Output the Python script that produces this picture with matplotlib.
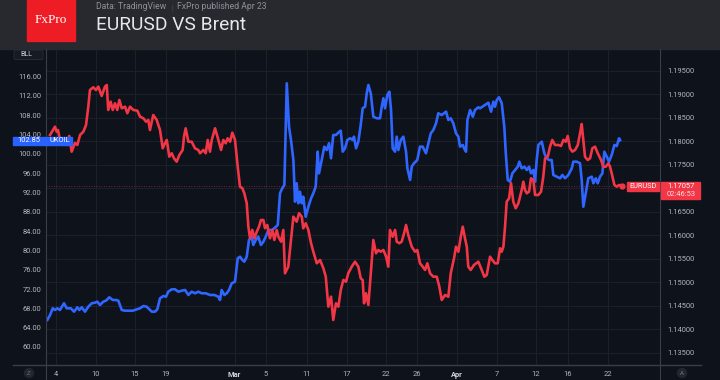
import matplotlib
matplotlib.use("Agg")
import matplotlib.pyplot as plt
from matplotlib.patches import Rectangle, Circle, FancyBboxPatch
import numpy as np

# ---------------- data ----------------
# time axis in bar units (compressed trading time)
tick_pos = [6.4, 33.3, 59, 80, 125.7, 146.7, 173.8, 200.4, 226.5, 247.3,
            274, 300.7, 326.7, 348, 374.7]
tick_labels = ['4', '10', '15', '19', 'Mar', '5', '11', '17', '22', '26',
               'Apr', '7', '12', '16', '22']

# UKOIL (Brent), left scale
oil_t = [0.9, 2.7, 4.5, 6, 7.5, 9.3, 12, 13.8, 16.5, 18.7,
         20.9, 22.2, 23.8, 26, 28.2, 30.5, 32.7, 34.2, 36, 38.2,
         40, 42.2, 44.5, 46.7, 48.2, 49.3, 50.5, 52.7, 55.5, 57.8,
         60.5, 62.7, 64.9, 67.1, 68.9, 70.5, 72.7, 74.2, 76, 78.2,
         80, 81.5, 83.8, 86, 88.2, 90.5, 92.7, 94.9, 97.1, 99.3,
         101.5, 103.8, 106.5, 109.3, 112.2, 114.9, 116, 117.1, 118.9, 120.5,
         122, 123.8, 126, 127.8, 129.3, 130.9, 132.2, 133.8, 135.3, 137.1,
         138.2, 139.8, 141.5, 143.3, 144.9, 146.5, 148.2, 150.5, 152.2, 154.5,
         156, 157.5, 158.9, 160.5, 162, 163.3, 164.9, 166, 167.1, 168.2,
         169.3, 170.5, 171.5, 173.1, 174.9, 176.7, 178.2, 179.8, 181.1, 182,
         183.8, 185.5, 187.1, 188.7, 190, 191.5, 193.3, 195.5, 196.5, 197.8,
         199.3, 200.9, 202.7, 204.5, 205.3, 206.7, 208.2, 209.8, 211.1, 212.7,
         213.8, 214.9, 216.5, 218.2, 220.5, 222.7, 223.8, 224.9, 226, 227.5,
         228.9, 230, 231.1, 232.7, 233.8, 234.9, 236.5, 238.2, 240, 240.9,
         242.7, 243.8, 245.3, 247.5, 249.3, 251.1, 253.3, 254.9, 256.5, 258.2,
         260, 261.5, 263.8, 265.3, 266.7, 268.2, 269.8, 271.5, 273.3, 274.9,
         276, 277.8, 278.7, 280, 280.9, 282.7, 284.5, 286, 288.2, 289.3,
         292.7, 294.9, 296.7, 298.2, 299.3, 300.5, 302, 303.8, 305.5, 306.5,
         307.8, 309.3, 310.9, 312.7, 314.5, 315.5, 317.1, 318.9, 320.5, 322,
         323.3, 324.9, 326, 327.1, 328.2, 330.5, 332.2, 333.8, 335.3, 337.1,
         338.2, 340.5, 342.7, 344.2, 346, 348.2, 350.5, 351.5, 353.8, 356,
         357.1, 358.2, 359.8, 361.5, 363.8, 364.9, 366.5, 367.8, 369.3, 370.9,
         372.2, 373.8, 375.3, 377.1, 378.9, 380.5, 382, 382.7]
oil = [65.59, 66.62, 68.01, 67.66, 68.01, 67.66, 69.05, 68.01, 68.01, 67.31,
       68.22, 67.66, 68.22, 67.31, 68.34, 69.05, 69.17, 69.38, 68.69, 69.38,
       69.59, 70.29, 69.73, 69.73, 69.59, 68.69, 67.66, 67.51, 67.51, 67.51,
       67.8, 68.01, 68.49, 68.34, 67.8, 67.31, 67.31, 67.8, 70.08, 70.56,
       70.41, 71.45, 71.95, 71.95, 71.45, 71.66, 71.8, 70.77, 71.45, 71.12,
       71.45, 71.12, 71.12, 70.77, 70.77, 70.41, 69.73, 71.8, 70.77, 71.12,
       71.8, 73.19, 73.52, 78.37, 78.7, 78.02, 77.67, 78.7, 82.16, 82.85,
       81.13, 82.16, 82.85, 81.13, 81.81, 82.85, 84.23, 84.23, 84.59, 85.27,
       91.84, 92.88, 93.56, 114.63, 105.64, 102.88, 98.74, 90.1, 93.91, 89.77,
       92.17, 89.77, 91.13, 86.99, 89.06, 90.8, 91.84, 93.21, 100.46, 95.98,
       98.74, 101.5, 100.81, 102.2, 99.09, 103.92, 103.92, 104.6, 104.81, 100.46,
       101.16, 102.88, 103.24, 102.88, 103.57, 101.16, 102.53, 105.99, 109.45, 109.78,
       112.56, 114.28, 112.56, 107.71, 107.38, 107.38, 109.78, 111.52, 109.45, 112.21,
       112.89, 109.1, 101.16, 100.46, 103.57, 100.81, 102.88, 103.57, 100.46, 97.02,
       94.6, 97.35, 98.06, 98.74, 101.5, 101.5, 100.13, 102.2, 104.27, 104.96,
       106.34, 108.42, 108.06, 108.42, 108.75, 107.03, 107.38, 106.34, 104.27, 103.57,
       101.5, 101.85, 101.16, 100.46, 107.03, 109.1, 107.71, 109.1, 109.66, 109.45,
       110.14, 110.61, 108.75, 110.82, 109.78, 111.17, 111.73, 110.49, 105.64, 100.13,
       94.6, 94.24, 95.98, 96.67, 97.35, 98.39, 97.02, 97.35, 96.67, 97.35,
       95.98, 96.67, 94.24, 98.74, 101.85, 102.53, 100.13, 99.09, 98.74, 98.74,
       95.63, 95.28, 94.95, 95.63, 94.95, 95.63, 97.02, 98.39, 98.39, 98.06,
       94.6, 89.06, 91.84, 94.95, 95.28, 93.91, 94.95, 93.91, 95.28, 95.98,
       100.46, 99.42, 98.39, 99.78, 101.85, 101.64, 103.24, 102.85]

# EURUSD, right scale
eur_t = [2.7, 6, 7.1, 8, 9.3, 11.3, 13.8, 15.5, 17.1, 19.3,
         20.9, 22.7, 24.9, 26.7, 28.2, 29.3, 31.5, 33.3, 34.9, 37.1,
         39.3, 40.5, 41.5, 43.1, 44.5, 46, 47.5, 48.9, 50.5, 52.7,
         54.2, 56, 58.2, 60.9, 62.7, 64.9, 66.7, 68.2, 69.3, 71.5,
         73.8, 76, 77.8, 79.3, 80.5, 82.2, 83.8, 85.3, 87.1, 88.9,
         91.1, 92, 93.1, 94.9, 97.1, 99.3, 101.5, 102.7, 104.9, 106.5,
         107.8, 109.3, 110.5, 112.7, 114.9, 116.7, 118.2, 119.8, 121.1, 122.7,
         124.2, 126, 127.8, 129.3, 130.9, 132.2, 133.8, 134.9, 136, 137.5,
         138.9, 140.5, 142, 143.3, 144.9, 146, 147.5, 149.3, 150.9, 152.2,
         153.8, 154.9, 156.7, 158.2, 159.3, 161.5, 163.3, 164.9, 167.1, 168.7,
         170.5, 171.5, 173.1, 174.9, 176.7, 178.2, 180.5, 182.7, 184.9, 186.5,
         188.2, 190, 191.5, 193.3, 194.9, 196.5, 198.2, 200, 201.5, 203.8,
         206, 208.2, 209.8, 211.1, 212, 213.3, 214.9, 216.5, 218.2, 220,
         221.5, 223.1, 224.9, 226.7, 228.2, 229.3, 231.1, 232.7, 233.8, 235.5,
         237.1, 238.7, 240, 241.5, 243.8, 246, 247.5, 249.3, 251.1, 252.7,
         254.2, 256, 258.2, 260.5, 262.2, 263.8, 266, 268.2, 269.8, 272,
         273.3, 274.9, 276.5, 277.8, 279.3, 280.5, 281.5, 283.1, 285.3, 288.2,
         290, 292.2, 293.8, 296, 297.5, 299.3, 301.1, 302.7, 303.8, 304.9,
         306, 307.1, 308.7, 310, 311.5, 313.1, 314.9, 317.1, 318.2, 319.3,
         320.5, 322, 323.3, 324.9, 326, 328.2, 330, 331.5, 332.7, 334.5,
         336, 337.5, 339.3, 341.5, 343.3, 344.9, 346.5, 347.8, 349.3, 350.9,
         352.7, 354.5, 356, 357.1, 358.2, 359.3, 361.1, 362.7, 364.2, 366,
         367.8, 370, 371.5, 373.1, 374.9, 376, 377.1, 378.9, 380.5, 382, 383.8]
eur = [1.18132, 1.18309, 1.18202, 1.18238, 1.18026, 1.17989, 1.17919, 1.18111, 1.17777, 1.17962,
       1.17919, 1.18132, 1.18202, 1.18345, 1.18734, 1.19089, 1.19147, 1.19089, 1.1916, 1.18962,
       1.1916, 1.19196, 1.18664, 1.1884, 1.18664, 1.18806, 1.18664, 1.18877, 1.187, 1.18734,
       1.18594, 1.18734, 1.18664, 1.18649, 1.18521, 1.18487, 1.18415, 1.18451, 1.18238, 1.18557,
       1.18451, 1.18238, 1.17849, 1.17955, 1.18026, 1.1767, 1.17743, 1.17636, 1.17564, 1.17706,
       1.17813, 1.18096, 1.18274, 1.17989, 1.17989, 1.17849, 1.17813, 1.17743, 1.17813, 1.17743,
       1.18026, 1.17777, 1.18026, 1.18274, 1.18026, 1.17813, 1.18026, 1.17955, 1.18062, 1.17989,
       1.18181, 1.18026, 1.17457, 1.17032, 1.16998, 1.16891, 1.16679, 1.16181, 1.15934, 1.16111,
       1.15934, 1.16074, 1.16181, 1.16323, 1.16323, 1.16147, 1.16217, 1.15934, 1.16111, 1.15898,
       1.16111, 1.15968, 1.15862, 1.16111, 1.15189, 1.1533, 1.15898, 1.16394, 1.16287, 1.16466,
       1.16394, 1.16147, 1.16253, 1.16111, 1.15828, 1.15649, 1.15402, 1.15472, 1.15296, 1.15117,
       1.14479, 1.14691, 1.14196, 1.14551, 1.14479, 1.14834, 1.15047, 1.15011, 1.15189, 1.1533,
       1.15436, 1.1533, 1.15083, 1.15047, 1.14551, 1.14764, 1.14515, 1.15189, 1.15898, 1.15615,
       1.15685, 1.15649, 1.15685, 1.15543, 1.1533, 1.16111, 1.15968, 1.16111, 1.15862, 1.15828,
       1.15862, 1.1604, 1.16217, 1.16004, 1.15755, 1.15649, 1.15685, 1.15402, 1.1533, 1.1526,
       1.15402, 1.15189, 1.15117, 1.15117, 1.14904, 1.14621, 1.14728, 1.14691, 1.15189, 1.15509,
       1.15755, 1.15649, 1.15968, 1.16181, 1.15934, 1.15755, 1.1533, 1.1526, 1.15366, 1.15436,
       1.15296, 1.15117, 1.15153, 1.15543, 1.15472, 1.15402, 1.15402, 1.15721, 1.15649, 1.15755,
       1.16181, 1.16713, 1.16785, 1.17104, 1.16713, 1.16572, 1.16679, 1.16962, 1.17138, 1.16962,
       1.16891, 1.16926, 1.17211, 1.17174, 1.16855, 1.16855, 1.16926, 1.17245, 1.17636, 1.1767,
       1.17883, 1.18026, 1.17919, 1.17919, 1.17898, 1.18026, 1.17989, 1.18111, 1.17849, 1.17777,
       1.17813, 1.17919, 1.18168, 1.18366, 1.18026, 1.1767, 1.176, 1.17636, 1.17849, 1.17883,
       1.17743, 1.176, 1.17457, 1.17457, 1.1753, 1.17457, 1.17317, 1.17068, 1.17032, 1.17068, 1.17057]

oil_ticks = list(range(60, 117, 4))
eur_ticks = [1.135, 1.14, 1.145, 1.15, 1.155, 1.16, 1.165, 1.17, 1.175, 1.18,
             1.185, 1.19, 1.195]

oil_last_label = "102.85"
eur_last = 1.17057
eur_last_label = "1.17057"
countdown = "02:46:53"

# ---------------- style ----------------
BG = '#0e121b'
HEADER = '#27292f'
GRID = '#1b202b'
SEP = '#3a3e48'
TXT = '#b2b5be'
BLUE = '#2f66ff'
RED = '#f23645'
FONT = 'Roboto'

plt.rcParams['font.family'] = [FONT, 'DejaVu Sans']

W, H = 720, 380
fig = plt.figure(figsize=(7.2, 3.8), dpi=100, facecolor=BG)

def fx(px):
    return px / W

def fy(py):
    return 1 - py / H

L, R, T, B = 46, 660, 50, 365
ax = fig.add_axes([fx(L), fy(B), (R - L) / W, (B - T) / H])
ax.set_facecolor(BG)
ax2 = ax.twinx()

OIL_LIM = (56.26, 121.53)
EUR_LIM = (1.13238, 1.19940)
ax.set_xlim(0, 409.3)
ax.set_ylim(*OIL_LIM)
ax2.set_ylim(*EUR_LIM)

for a in (ax, ax2):
    for s in a.spines.values():
        s.set_visible(False)

# grids (drawn on the back axes so that they stay under both lines)
ax.set_xticks(tick_pos)
ax.set_xticklabels(tick_labels)
ax.grid(axis='x', color=GRID, lw=0.8, zorder=0)
ax.set_axisbelow(True)
for e in eur_ticks:
    frac = (e - EUR_LIM[0]) / (EUR_LIM[1] - EUR_LIM[0])
    ax.axhline(OIL_LIM[0] + frac * (OIL_LIM[1] - OIL_LIM[0]), color=GRID, lw=0.8, zorder=0.5)

ax2.set_yticks(eur_ticks)
ax2.set_yticklabels(['' if abs(v - 1.17) < 1e-9 else f'{v:.5f}' for v in eur_ticks])
ax2.grid(False)

ax.set_yticks(oil_ticks)
ax.set_yticklabels([f'{v:.2f}' for v in oil_ticks])

ax.tick_params(axis='y', length=0, pad=3.6, labelsize=5.4, labelcolor=TXT)
ax2.tick_params(axis='y', length=0, pad=5.0, labelsize=5.4, labelcolor=TXT)
ax.tick_params(axis='x', length=0, pad=4.2, labelsize=5.4, labelcolor=TXT)
for lab in ax.get_xticklabels():
    if lab.get_text() in ('Mar', 'Apr'):
        lab.set_fontweight('bold')
        lab.set_color('#d1d4dc')

# lines
ax.plot(oil_t, oil, color=BLUE, lw=1.9, solid_joinstyle='round', zorder=3)
ax2.plot(eur_t, eur, color=RED, lw=1.9, solid_joinstyle='round', zorder=3)
ax2.plot([eur_t[-1]], [eur[-1]], 'o', color=RED, ms=3.5, zorder=4)
ax2.axhline(eur_last, color=RED, lw=0.6, ls=(0, (1, 2)), alpha=0.6, zorder=2)

# ---------------- overlay decorations ----------------
ov = fig.add_axes([0, 0, 1, 1], zorder=10)
ov.set_xlim(0, W)
ov.set_ylim(H, 0)
ov.axis('off')
ov.patch.set_alpha(0)

# header
ov.add_patch(Rectangle((0, 0), W, 49, color=HEADER, zorder=1))
ov.add_patch(Rectangle((27, 0), 48, 41, color='#ee1c24', zorder=2))
ov.text(51, 20, 'FxPro', color='white', fontsize=9.5, family='Liberation Serif',
        ha='center', va='center', zorder=3)
ov.text(96, 9.3, 'Data: TradingView', color='#8e919a', fontsize=6.2,
        ha='left', va='baseline', zorder=3)
ov.text(172, 9.3, '|', color='#555861', fontsize=5, ha='center', va='baseline', zorder=3)
ov.text(177, 9.3, 'FxPro published Apr 23', color='#8e919a', fontsize=6.2,
        ha='left', va='baseline', zorder=3)
ov.text(96, 30, 'EURUSD VS Brent', color='#e6e7ea', fontsize=13.8,
        ha='left', va='baseline', zorder=3)

# separators
ov.plot([L, L], [49, H], color=SEP, lw=0.8, zorder=2)
ov.plot([R, R], [49, H], color=SEP, lw=0.8, zorder=2)
ov.plot([13, 701], [B, B], color=SEP, lw=1.0, zorder=2)

# BLL box
ov.add_patch(FancyBboxPatch((14, 50), 29, 9.5, boxstyle='round,pad=0,rounding_size=1.5',
                            fc='#161a23', ec='#2a2e39', lw=0.6, zorder=3))
ov.text(20, 55, 'BLL', color='#d1d4dc', fontsize=5, ha='left', va='center', zorder=4)

# Z / A buttons
for cx, t in ((29, 'Z'), (682, 'A')):
    ov.add_patch(Circle((cx, 373), 4.5, color='#22262f', zorder=3))
    ov.text(cx, 373.3, t, color='#6c707a', fontsize=4.5, ha='center', va='center', zorder=4)

# UKOIL label (left)
ov.add_patch(Rectangle((13, 136.5), 59, 8.5, color='#2962ff', zorder=5))
ov.text(28.5, 140.9, oil_last_label, color='white', fontsize=5.4, ha='center', va='center', zorder=6)
ov.text(59.5, 140.9, 'UKOIL', color='white', fontsize=5.4, ha='center', va='center', zorder=6)

# EURUSD label (right)
ov.add_patch(Rectangle((627, 182), 32, 8.5, color=RED, zorder=5))
ov.text(643, 186.4, 'EURUSD', color='white', fontsize=5.3, ha='center', va='center', zorder=6)
ov.add_patch(Rectangle((661, 181.5), 39, 17, color=RED, zorder=5))
ov.text(667, 186.2, eur_last_label, color='white', fontsize=5.4, ha='left', va='center', zorder=6)
ov.text(667, 194.2, countdown, color='#fde0e2', fontsize=5.4, ha='left', va='center', zorder=6)

fig.savefig('out.png', dpi=100, facecolor=BG)
